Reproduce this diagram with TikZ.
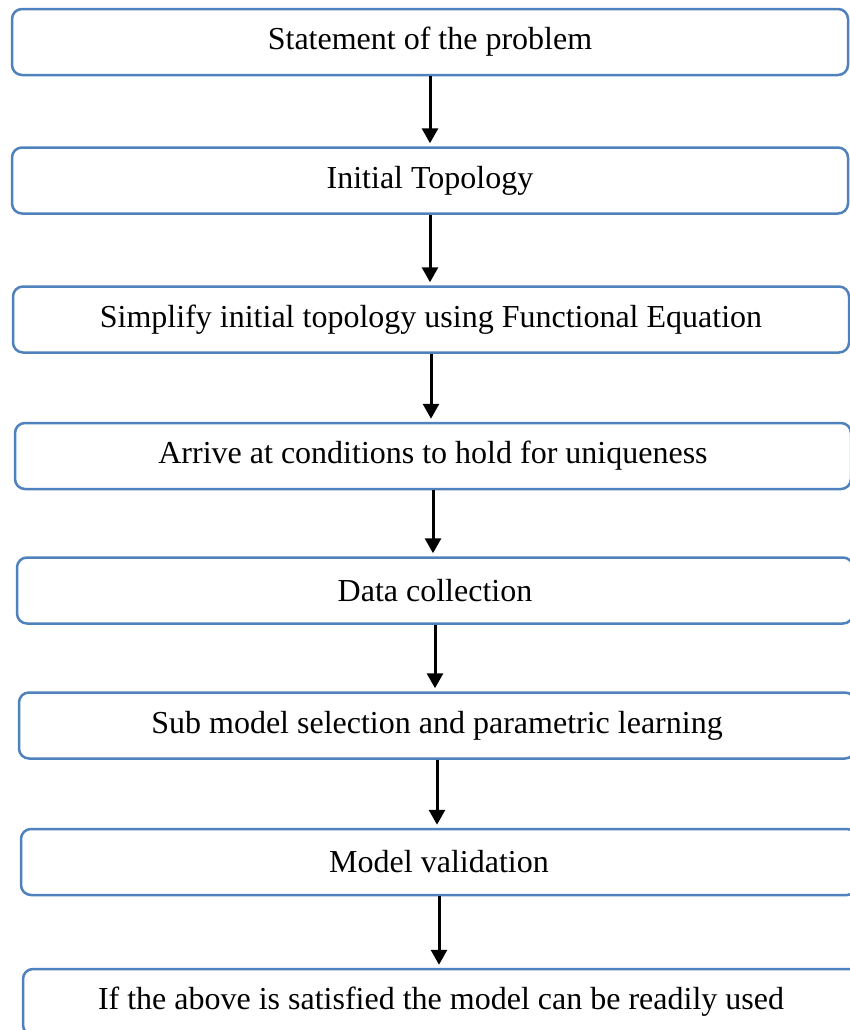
\documentclass[tikz,border=0pt]{standalone}
\usepackage{fontspec}
\setmainfont{Liberation Serif}
\usetikzlibrary{arrows.meta}
\definecolor{boxblue}{HTML}{4F81BD}
\begin{document}
\begin{tikzpicture}[x=0.5pt,y=-0.5pt,
        stepbox/.style={draw=boxblue, line width=1.25pt, rounded corners=5pt, minimum width=418pt, minimum height=33pt, inner sep=0pt, font=\fontsize{16}{19}\selectfont},
        flow/.style={-{Triangle[length=7.5pt,width=8pt]}, line width=1.5pt, shorten >=1.5pt}]
        \useasboundingbox (0,0) rectangle (850,1030);
        \clip (0,0) rectangle (850,1030);
        % Boxes
        \node [stepbox] (problem) at (430,42) {Statement of the problem};
        \node [stepbox] (topology) at (430,180.5) {Initial Topology};
        \node [stepbox] (simplify) at (431,319.5) {Simplify initial topology using Functional Equation};
        \node [stepbox] (conditions) at (433,456) {Arrive at conditions to hold for uniqueness};
        \node [stepbox] (data) at (435,590.5) {Data collection};
        \node [stepbox] (learning) at (437,725.5) {Sub model selection and parametric learning};
        \node [stepbox] (validation) at (439,862) {Model validation};
        \node [stepbox] (usage) at (441,1002) {If the above is satisfied the model can be readily used};
        % Arrows
        \draw [flow] (problem.south) -- (problem.south |- topology.north);
        \draw [flow] (topology.south) -- (topology.south |- simplify.north);
        \draw [flow] (simplify.south) -- (simplify.south |- conditions.north);
        \draw [flow] (conditions.south) -- (conditions.south |- data.north);
        \draw [flow] (data.south) -- (data.south |- learning.north);
        \draw [flow] (learning.south) -- (learning.south |- validation.north);
        \draw [flow] (validation.south) -- (validation.south |- usage.north);
    \end{tikzpicture}
\end{document}
